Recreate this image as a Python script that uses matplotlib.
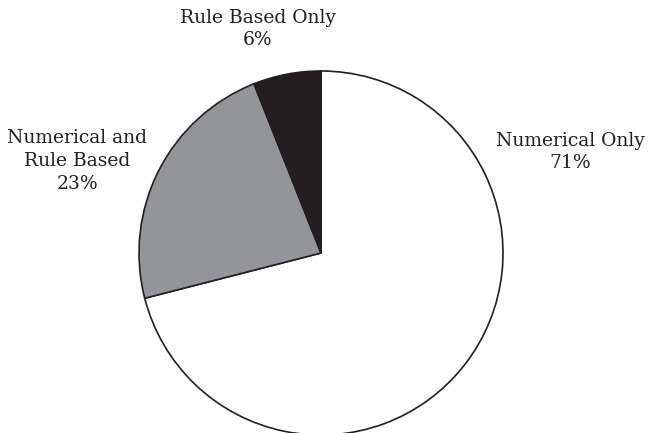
import matplotlib
matplotlib.use("Agg")
import matplotlib.pyplot as plt

categories = ["Numerical Only", "Numerical and\nRule Based", "Rule Based Only"]
values = [71, 23, 6]
colors = ["#ffffff", "#939598", "#231f20"]
label_pos = [(570, 152), (77, 161), (258, 29)]

W, H = 648, 433
fig = plt.figure(figsize=(W / 100, H / 100), dpi=100)
ax = fig.add_axes([0, 0, 1, 1])
cx, cy, r = 321, H - 253, 182
ax.pie(values, colors=colors, startangle=90, counterclock=False,
       center=(cx, cy), radius=r, frame=True,
       wedgeprops=dict(edgecolor="#231f20", linewidth=1.2))
ax.set_xlim(0, W)
ax.set_ylim(0, H)
ax.set_aspect("equal")
ax.axis("off")
for cat, v, (x, y) in zip(categories, values, label_pos):
    ax.text(x, H - y, f"{cat}\n{v}%", ha="center", va="center",
            multialignment="center", fontsize=13.5, family="DejaVu Serif",
            color="#231f20", linespacing=1.33)
fig.savefig("out.png", dpi=100)
